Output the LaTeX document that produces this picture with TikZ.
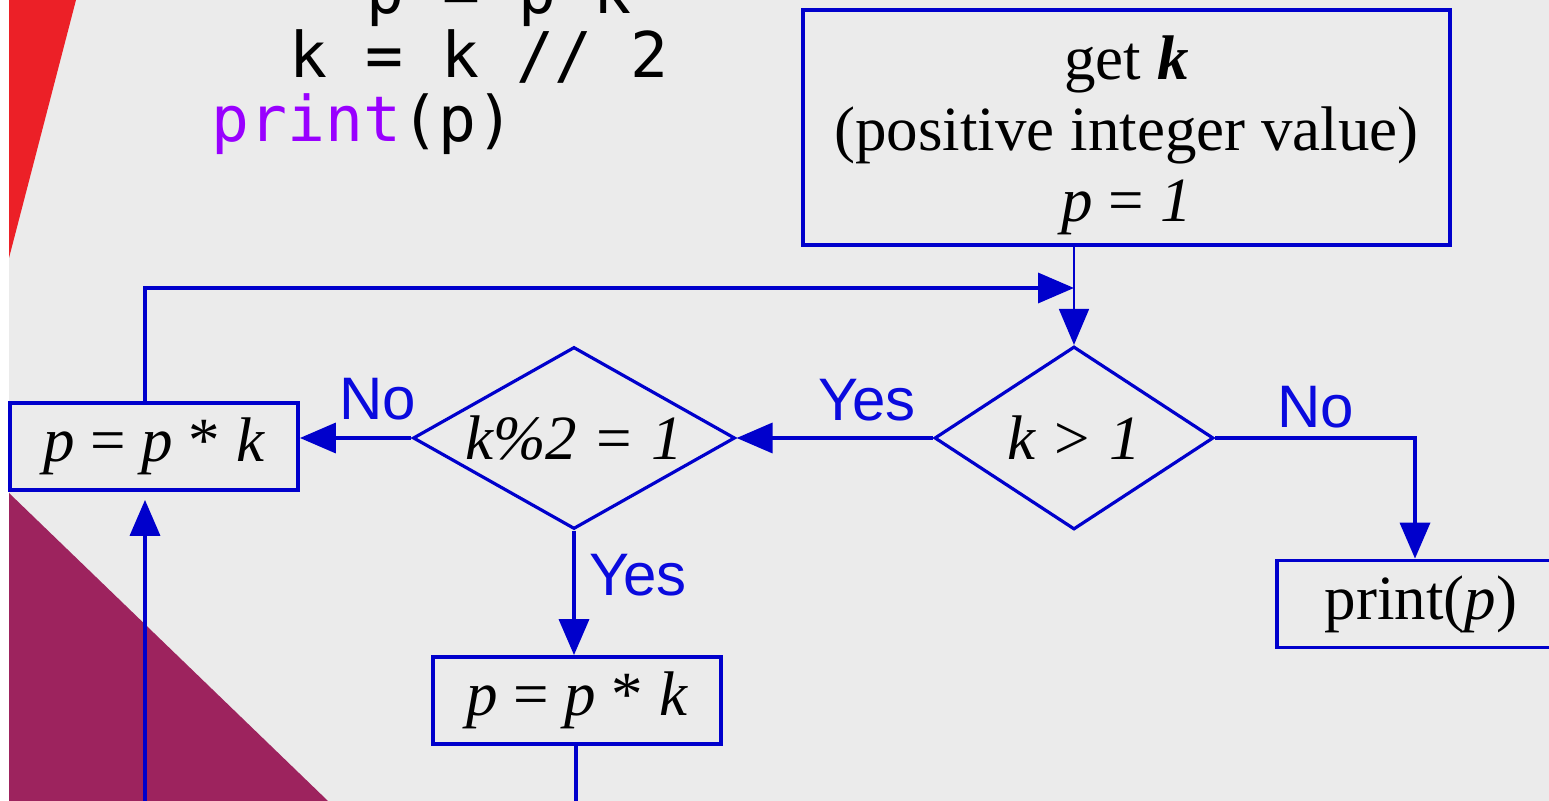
\documentclass[tikz,border=0pt]{standalone}
\usepackage{fontspec}
\setmainfont{Liberation Serif}
\newfontfamily\labelfont{Liberation Sans}
\newfontfamily\codefont{DejaVu Sans Mono}
\usepackage{tikz}
\usetikzlibrary{arrows.meta, shapes.geometric}
\definecolor{flowblue}{HTML}{0000CC}
\definecolor{labelblue}{HTML}{0A0ADE}
\definecolor{slidegray}{HTML}{EBEBEB}
\definecolor{slidered}{HTML}{EC2027}
\definecolor{slideplum}{HTML}{9D235E}
\definecolor{codepurple}{HTML}{9900FF}

\begin{document}
\begin{tikzpicture}[x=0.5pt, y=-0.5pt,
  box/.style={draw=flowblue, line width=1.9pt, minimum width=144pt, minimum height=43.5pt, inner sep=0pt, font=\fontsize{31.5}{35.5}\selectfont},
  test/.style={diamond, draw=flowblue, line width=1.6pt, inner sep=0pt, font=\fontsize{31.5}{35.5}\selectfont\itshape},
  lbl/.style={text=labelblue, font=\labelfont\fontsize{30}{31}\selectfont, anchor=base, inner sep=0pt},
  code/.style={font=\codefont\fontsize{31.5}{32}\selectfont, anchor=base west, inner sep=0pt},
  wire/.style={draw=flowblue, line width=1.8pt},
  flow/.style={wire, -{Triangle[length=18pt, width=15pt]}}]
  \useasboundingbox (0,0) rectangle (1549,801);
  \clip (0,0) rectangle (1549,801);
  % slide background
  \fill[slidegray] (9,0) rectangle (1549,801);
  \fill[slidered] (9,0) -- (76,0) -- (9,258) -- cycle;
  \fill[slideplum] (9,493) -- (328,801) -- (9,801) -- cycle;
  % code on the slide, partly cut off
  \node[code] (line1) at (366,14) {p = p*k};
  \node[code] (line2) at (289,78) {k = k // 2};
  \node[code] (line3) at (211,142) {\textcolor{codepurple}{print}(p)};
  % blocks and tests
  \node[box, minimum width=323.5pt, minimum height=117.5pt, align=center] (getk) at (1126.5,127.5)
    {\rule{0pt}{30pt}get \textbf{\textit{k}}\\(positive integer value)\\\textit{p} = \textit{1}};
  \node[test, aspect=1.52, minimum width=139.5pt, minimum height=91.5pt] (kgt) at (1074,438) {k > 1};
  \node[test, aspect=1.77, minimum width=161pt, minimum height=91pt] (kodd) at (574,438) {k\%2 = 1};
  \node[box] (pleft) at (154,446.5) {\textit{p} = \textit{p} * \textit{k}};
  \node[box] (pbot) at (577,700.5) {\textit{p} = \textit{p} * \textit{k}};
  \node[box] (prt) at (1421,604) {print(\textit{p})};
  \coordinate (join) at (1074,288);
  \coordinate (upfoot) at (145,801);
  \coordinate (downfoot) at (576,801);
  % connectors
  \draw[flow, line width=0.9pt] (getk.south -| kgt.north) -- (kgt.north);
  \draw[flow] ([xshift=-4.5pt]pleft.north) |- (join);
  \draw[flow] (kgt.west) -- (kodd.east);
  \draw[flow] (kodd.west) -- (kodd.west -| pleft.east);
  \draw[flow] (kodd.south) -- (kodd.south |- pbot.north);
  \draw[flow] (kgt.east) -| ([xshift=-3pt]prt.north);
  \draw[flow, shorten >=4pt] (upfoot) -- (upfoot |- pleft.south);
  \draw[wire] (pbot.south -| downfoot) -- (downfoot);
  % branch labels
  \node[lbl] (noleft) at (378,420) {No};
  \node[lbl] (yestop) at (867,421) {Yes};
  \node[lbl] (noright) at (1316,428) {No};
  \node[lbl] (yesdown) at (638,596) {Yes};
\end{tikzpicture}
\end{document}
